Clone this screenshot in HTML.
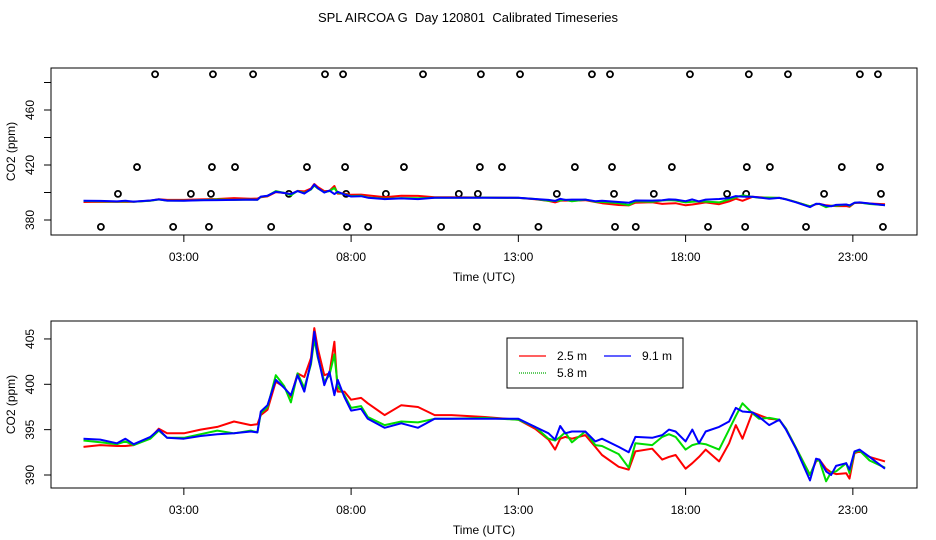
<!DOCTYPE html>
<html><head><meta charset="utf-8"><style>
body{margin:0;background:#fff;}
svg{display:block;font-family:"Liberation Sans",sans-serif;}
</style></head><body>
<svg id="c" width="936" height="540" viewBox="0 0 936 540" xmlns="http://www.w3.org/2000/svg">
<rect width="936" height="540" fill="#fff"/>
<text x="468" y="22" text-anchor="middle" font-size="13" style="white-space:pre">SPL AIRCOA G  Day 120801  Calibrated Timeseries</text>
<g id="topPanel"></g>
<g id="botPanel"></g>
</svg>
<script>
const times=[0,0.5,1,1.25,1.5,2,2.25,2.5,3,3.5,4,4.5,5,5.2,5.3,5.5,5.75,6,6.2,6.4,6.6,6.8,6.9,7.0,7.2,7.35,7.5,7.6,7.8,8,8.3,8.5,9,9.5,10,10.5,11,12,13,13.5,13.9,14.1,14.25,14.4,14.6,15,15.3,15.5,16,16.3,16.5,17,17.3,17.5,17.7,18,18.2,18.4,18.6,19,19.3,19.5,19.7,20,20.2,20.5,20.8,21,21.3,21.72,21.9,22,22.2,22.35,22.5,22.8,22.9,23.05,23.2,23.5,23.96];
const red=[393.1,393.3,393.2,393.2,393.3,394.1,395.1,394.6,394.6,395.0,395.3,395.9,395.5,395.6,396.6,397.2,400.3,399.7,398.6,401.2,400.8,402.9,406.2,404.0,401.0,401.2,404.7,399.2,399.2,398.3,398.5,397.9,396.6,397.7,397.5,396.6,396.6,396.4,396.1,395.1,393.9,392.8,394.0,394.2,394.0,394.4,393.1,392.2,390.9,390.6,392.6,392.9,391.7,392.0,392.2,390.7,391.3,392.0,392.8,391.5,393.5,395.5,394.0,396.9,396.6,396.2,396.1,395.1,393.0,390.0,391.5,391.7,390.7,390.3,390.1,390.2,389.6,392.4,392.6,392.0,391.5];
const green=[393.8,393.6,393.4,393.7,393.3,394.0,394.9,394.1,394.1,394.5,394.9,394.6,394.9,394.7,396.8,397.5,401.0,399.8,398.0,401.2,399.6,402.2,405.0,403.0,400.3,401.0,403.3,399.8,398.8,397.4,397.6,396.4,395.5,395.9,395.8,396.2,396.2,396.3,396.1,395.3,394.0,393.8,394.2,394.7,393.6,394.8,393.3,393.2,392.3,390.8,393.5,393.3,394.2,394.5,394.2,392.8,393.3,393.5,393.4,392.8,395.0,396.5,397.9,396.8,396.2,396.3,396.1,395.1,393.0,390.0,391.6,391.6,389.3,390.3,390.4,391.3,390.2,392.5,392.7,391.6,390.8];
const blue=[394.0,393.9,393.5,394.0,393.4,394.2,395.0,394.1,394.0,394.3,394.5,394.6,394.8,394.7,397.0,397.7,400.5,399.6,398.8,401.0,399.2,402.5,405.8,403.2,399.9,401.4,398.8,400.5,398.6,397.1,397.3,396.2,395.2,395.7,395.2,396.2,396.2,396.2,396.2,395.3,394.6,393.9,395.4,394.6,394.8,394.8,393.7,394.0,393.1,392.5,394.2,394.1,394.4,395.0,394.8,393.7,395.0,393.5,394.8,395.3,395.9,397.4,397.0,396.9,396.4,395.5,396.1,395.0,392.9,389.4,391.8,391.7,390.4,390.0,391.0,391.3,390.6,392.6,392.8,392.0,390.7];
const circleRows=[486,418.5,399,375];
const circleHours=[
[2.14,3.87,5.07,7.22,7.76,10.15,11.88,13.05,15.20,15.74,18.13,19.89,21.06,23.21,23.75],
[1.60,3.84,4.53,6.68,7.82,9.58,11.85,12.51,14.69,15.80,17.59,19.83,20.52,22.67,23.81],
[1.03,3.21,3.81,6.14,7.85,9.04,11.22,11.79,14.15,15.86,17.05,19.24,19.81,22.14,23.84],
[0.52,2.68,3.75,5.61,7.88,8.51,10.69,11.76,13.60,15.89,16.51,18.67,19.78,21.60,23.90]];
const xTicks=[3,8,13,18,23];
const xTickLabels=["03:00","08:00","13:00","18:00","23:00"];
const topTicks=[380,400,420,440,460,480];
const topTickLabels=["380","","420","","460",""];
const botTicks=[390,395,400,405];
const botTickLabels=["390","395","400","405"];

const NS="http://www.w3.org/2000/svg";
function mk(p,t,a){const e=document.createElementNS(NS,t);for(const k in a)e.setAttribute(k,a[k]);p.appendChild(e);return e;}
const xs=h=>83.5+h*33.45;
const yTop=v=>220-(v-380)*1.375;
const yBot=v=>475-(v-390)*9.07;

function panel(g,box,ys,ticks,labels,name){
  let r=mk(g,'rect',{x:box[0],y:box[1],width:box[2]-box[0],height:box[3]-box[1],fill:'none',stroke:'#000','stroke-width':1});
  
  xTicks.forEach((h,i)=>{
    let l=mk(g,'line',{x1:xs(h),x2:xs(h),y1:box[3],y2:box[3]+7,stroke:'#000'});
    
    let t=mk(g,'text',{x:xs(h),y:box[3]+26,'text-anchor':'middle','font-size':12});
    t.textContent=xTickLabels[i];
    
  });
  ticks.forEach((v,i)=>{
    let l=mk(g,'line',{x1:box[0]-7,x2:box[0],y1:ys(v),y2:ys(v),stroke:'#000'});
    
    if(labels[i]){
      let t=mk(g,'text',{x:0,y:0,'text-anchor':'middle','font-size':12,transform:`translate(34,${ys(v)}) rotate(-90)`});
      t.textContent=labels[i];
      
    }
  });
  let xt=mk(g,'text',{x:484,y:box[3]+46,'text-anchor':'middle','font-size':12});
  xt.textContent='Time (UTC)';
  
  let yt=mk(g,'text',{x:0,y:0,'text-anchor':'middle','font-size':12,transform:`translate(15,${(box[1]+box[3])/2}) rotate(-90)`});
  yt.textContent='CO2 (ppm)';
  
}
function series(g,ys,vals,col,name){
  const d=vals.map((v,i)=>(i?'L':'M')+xs(times[i]).toFixed(1)+','+ys(v).toFixed(1)).join('');
  let p=mk(g,'path',{d:d,fill:'none',stroke:col,'stroke-width':2,'stroke-linejoin':'round'});
  
}
const topG=document.getElementById('topPanel'),botG=document.getElementById('botPanel');
panel(topG,[51,68,917,235],yTop,topTicks,topTickLabels,'top');
circleRows.forEach((v,r)=>circleHours[r].forEach(h=>{
  let c=mk(topG,'circle',{cx:xs(h),cy:yTop(v),r:3,fill:'none',stroke:'#000','stroke-width':1.8});
  
}));
series(topG,yTop,red,'#f00','top-series-2-5m');
series(topG,yTop,green,'#0d0','top-series-5-8m');
series(topG,yTop,blue,'#00f','top-series-9-1m');
panel(botG,[51,321,917,488],yBot,botTicks,botTickLabels,'bottom');
series(botG,yBot,red,'#f00','series-2-5m');
series(botG,yBot,green,'#0d0','series-5-8m');
series(botG,yBot,blue,'#00f','series-9-1m');
const lg=mk(botG,'g',{});

mk(lg,'rect',{x:507,y:338,width:176,height:50,fill:'#fff',stroke:'#000'});
const ents=[["2.5 m",'#f00',519,356],["9.1 m",'#00f',604,356],["5.8 m",'#0a0',519,373]];
ents.forEach(e=>{
  let l=mk(lg,'line',{x1:e[2],x2:e[2]+27,y1:e[3],y2:e[3],stroke:e[1],'stroke-width':1.3,'stroke-dasharray':e[0]=="5.8 m"?'1,1':'none'});
  
  let t=mk(lg,'text',{x:e[2]+38,y:e[3]+4,'font-size':12});
  t.textContent=e[0];
  
});
</script>
</body></html>
